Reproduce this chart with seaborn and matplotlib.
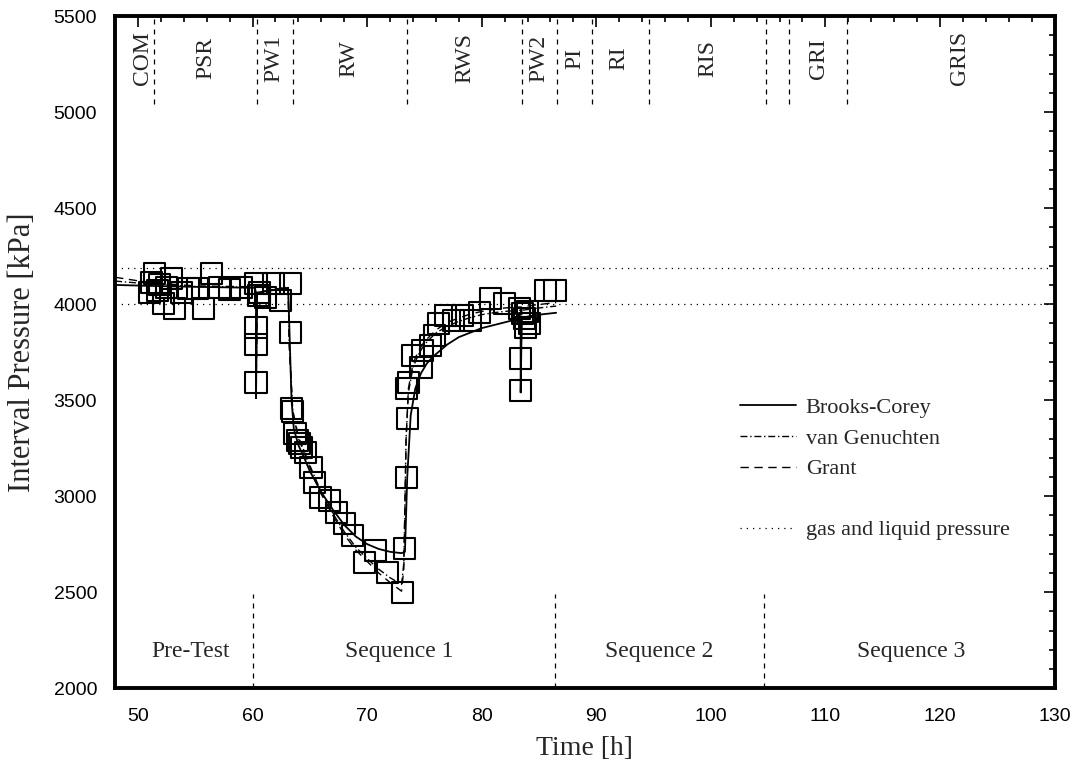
import numpy as np
import pandas as pd
import matplotlib
matplotlib.use("Agg")
import matplotlib.pyplot as plt
from matplotlib.lines import Line2D
from matplotlib.ticker import MultipleLocator
import seaborn as sns

# measured interval pressure (time [h], pressure [kPa])
obs_time = [51.0, 51.2, 51.4, 51.7, 51.9, 52.2, 52.5, 52.9, 53.2, 53.8, 54.4, 55.2, 55.7, 56.4, 57.1,
            58.0, 59.0,
            60.3, 60.5, 60.6, 60.3, 60.3, 60.3, 61.1, 61.8, 62.4, 63.3,
            63.3, 63.4, 63.5, 63.7, 63.9, 64.1, 64.3, 64.6, 65.1, 65.4, 65.95, 66.7, 67.3, 68.0, 68.7,
            69.8, 70.7, 71.8, 73.1,
            73.3, 73.4, 73.5, 73.4, 73.6, 74.0, 74.7, 74.85, 75.5, 75.9, 76.2, 76.8, 77.5, 78.3, 79.0,
            79.8, 80.8, 82.0, 83.3,
            83.7, 83.8, 83.4, 83.4, 83.6, 84.0, 84.2, 85.6, 86.4]
obs_press = [4063, 4115, 4161, 4073, 4100, 4005, 4085, 4135, 3979, 4060, 4083, 4083, 3979, 4161, 4089,
             4078, 4089,
             4109, 4047, 4060, 3880, 3790, 3594, 4036, 4109, 4020, 4109,
             3854, 3458, 3440, 3328, 3292, 3276, 3255, 3229, 3151, 3073, 2995, 2979, 2917, 2859, 2797,
             2656, 2719, 2604, 2500,
             2729, 3099, 3406, 3562, 3594, 3734, 3672, 3760, 3786, 3838, 3901, 3943, 3917, 3943, 3917,
             3958, 4031, 4005, 3979,
             3927, 3880, 3719, 3552, 3950, 3960, 3900, 4073, 4073]

# simulated curves
bc_time = [48, 51, 55, 60.2, 60.3, 60.3, 60.4, 63.1, 63.2, 63.4, 63.6, 64, 64.5, 65, 66, 67, 68, 69,
           70, 71, 72, 73.0, 73.3, 73.5, 73.8, 74.2, 74.7, 75.2, 75.7, 77, 78, 80, 82, 83.3, 83.4,
           83.4, 83.5, 84, 85, 86.5]
bc_press = [4100, 4095, 4090, 4085, 4050, 3510, 4060, 4085, 3900, 3500, 3350, 3265, 3200, 3130, 3020,
            2930, 2850, 2790, 2750, 2725, 2710, 2703, 2710, 3100, 3420, 3560, 3640, 3690, 3724, 3790,
            3828, 3875, 3905, 3925, 3925, 3540, 3928, 3935, 3945, 3955]

vg_time = [48, 51, 55, 60.2, 60.3, 60.3, 60.4, 63.1, 63.2, 63.5, 64, 65, 66, 67, 68, 69, 70, 71, 72,
           73.0, 73.2, 73.4, 73.6, 74, 74.5, 75, 76, 77, 78, 79, 80, 81, 82, 83.3, 83.4, 83.4, 83.5,
           84, 85, 86.5]
vg_press = [4120, 4105, 4092, 4088, 4050, 3510, 4060, 4088, 3800, 3450, 3310, 3160, 3020, 2910, 2815,
            2735, 2675, 2620, 2575, 2540, 2650, 3300, 3540, 3670, 3740, 3790, 3850, 3885, 3910, 3930,
            3945, 3955, 3962, 3968, 3968, 3540, 3968, 3972, 3980, 3990]

gr_time = [48, 51, 55, 60.2, 60.3, 60.3, 60.4, 63.1, 63.2, 63.5, 64, 65, 66, 67, 68, 69, 70, 71, 72,
           73.0, 73.2, 73.4, 73.6, 74, 74.5, 75, 76, 77, 78, 79, 80, 81, 82, 83.3, 83.4, 83.4, 83.5,
           84, 85, 86.5]
gr_press = [4140, 4112, 4095, 4090, 4050, 3510, 4060, 4090, 3780, 3440, 3300, 3150, 3010, 2900, 2800,
            2720, 2660, 2600, 2550, 2505, 2620, 3300, 3560, 3690, 3760, 3805, 3865, 3905, 3928, 3948,
            3962, 3972, 3980, 3985, 3985, 3540, 3985, 3990, 3998, 4008]

gas_liquid = [4190, 4000]

# test phases (top) and sequences (bottom)
phase_bounds = [51.4, 60.4, 63.5, 73.5, 83.5, 86.6, 89.6, 94.6, 104.8, 106.8, 111.9]
phase_names = ["COM", "PSR", "PW1", "RW", "RWS", "PW2", "PI", "RI", "RIS", "GRI", "GRIS"]
phase_pos = [50.4, 55.9, 61.9, 68.4, 78.5, 85.0, 88.1, 92.0, 99.7, 109.4, 121.75]
seq_bounds = [60.0, 86.4, 104.6]
seq_names = ["Pre-Test", "Sequence 1", "Sequence 2", "Sequence 3"]
seq_pos = [54.6, 72.8, 95.5, 117.5]

sns.set_theme(style="white")
serif = ["Liberation Serif", "DejaVu Serif"]
plt.rcParams["font.family"] = ["Liberation Sans", "DejaVu Sans"]

fig = plt.figure(figsize=(10.86, 7.68), dpi=100)
ax = fig.add_axes([0.106, 0.104, 0.865, 0.875])

for lvl in gas_liquid:
    ax.axhline(lvl, color="black", lw=0.9, ls=(0, (1, 4)))

for b in phase_bounds:
    ax.plot([b, b], [5040, 5500], color="black", lw=0.9, ls=(0, (4, 4)))
for b in seq_bounds:
    ax.plot([b, b], [2000, 2490], color="black", lw=0.9, ls=(0, (4, 4)))

sns.lineplot(x=bc_time, y=bc_press, sort=False, estimator=None, color="black", lw=1.3, ax=ax)
sns.lineplot(x=vg_time, y=vg_press, sort=False, estimator=None, color="black", lw=1.0,
             ls=(0, (5, 2, 1, 2)), ax=ax)
sns.lineplot(x=gr_time, y=gr_press, sort=False, estimator=None, color="black", lw=1.0,
             ls=(0, (6, 4)), ax=ax)

sns.scatterplot(x=obs_time, y=obs_press, marker="s", s=230, facecolors="none",
                edgecolor="black", linewidth=1.5, ax=ax, zorder=3)

for name, x in zip(phase_names, phase_pos):
    ax.text(x, 5280, name, rotation=90, ha="center", va="center", fontsize=17, family=serif)
for name, x in zip(seq_names, seq_pos):
    ax.text(x, 2190, name, ha="center", va="center", fontsize=17, family=serif)

ax.set_xlim(48, 130)
ax.set_ylim(2000, 5500)
ax.xaxis.set_major_locator(MultipleLocator(10))
ax.xaxis.set_minor_locator(MultipleLocator(2))
ax.yaxis.set_major_locator(MultipleLocator(500))
ax.yaxis.set_minor_locator(MultipleLocator(100))
ax.tick_params(which="both", direction="in", top=True, right=True, colors="black",
               labelsize=14, width=1.2)
ax.tick_params(which="major", length=8)
ax.tick_params(which="minor", length=4)
ax.tick_params(axis="x", pad=14)
ax.tick_params(axis="y", pad=13)
for sp in ax.spines.values():
    sp.set_linewidth(2.8)
    sp.set_color("black")

ax.set_xlabel("Time [h]", fontsize=20, family=serif, labelpad=8)
ax.set_ylabel("Interval Pressure [kPa]", fontsize=22, family=serif, labelpad=12)

handles = [
    Line2D([], [], color="black", lw=1.3),
    Line2D([], [], color="black", lw=1.0, ls=(0, (5, 2, 1, 2))),
    Line2D([], [], color="black", lw=1.0, ls=(0, (6, 4))),
    Line2D([], [], color="none"),
    Line2D([], [], color="black", lw=0.9, ls=(0, (1, 4))),
]
labels = ["Brooks-Corey", "van Genuchten", "Grant", "", "gas and liquid pressure"]
ax.legend(handles, labels, loc="upper left", bbox_to_anchor=(0.644, 0.462), frameon=False,
          handlelength=2.5, handletextpad=0.45, labelspacing=0.45,
          prop={"family": serif, "size": 16})

fig.savefig("out.png", dpi=100)
